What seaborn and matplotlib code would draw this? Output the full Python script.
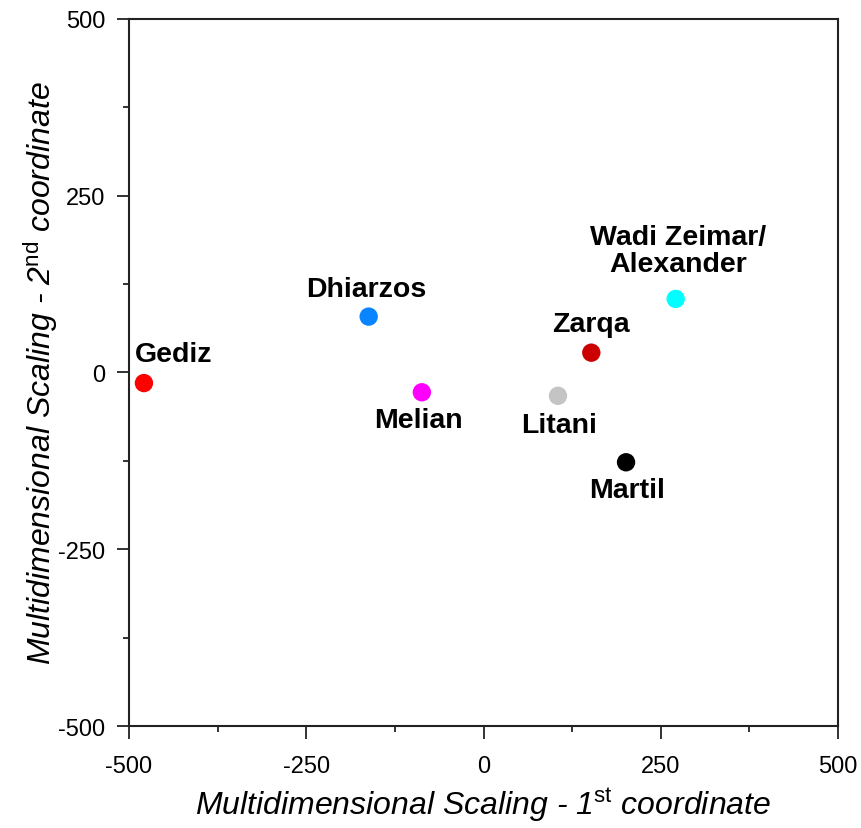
import matplotlib
matplotlib.use("Agg")
import matplotlib.pyplot as plt
import seaborn as sns
import pandas as pd
from matplotlib.ticker import MultipleLocator

# MDS coordinates
rivers = ["Gediz", "Dhiarzos", "Melian", "Litani", "Zarqa",
          "Wadi Zeimar/\nAlexander", "Martil"]
coord1 = [-479, -162, -87, 105, 152, 271, 201]
coord2 = [-15, 79, -28, -33, 28, 104, -127]
colors = ["#FF0000", "#0A84FF", "#FF00FF", "#C4C4C4", "#CC0000",
          "#00FFFF", "#000000"]

df = pd.DataFrame({"river": rivers, "x": coord1, "y": coord2})

sns.set_style("ticks")
plt.rcParams['font.family'] = ['Liberation Sans', 'DejaVu Sans']
plt.rcParams['mathtext.fontset'] = 'custom'
plt.rcParams['mathtext.rm'] = 'Liberation Sans'
plt.rcParams['mathtext.it'] = 'Liberation Sans:italic'
plt.rcParams['axes.unicode_minus'] = False
plt.rcParams['text.color'] = 'black'
plt.rcParams['axes.labelcolor'] = 'black'
plt.rcParams['xtick.color'] = 'black'
plt.rcParams['ytick.color'] = 'black'

fig = plt.figure(figsize=(8.62, 8.29), dpi=100)
ax = fig.add_axes([0.1497, 0.123, 0.8225, 0.853])

sns.scatterplot(data=df, x="x", y="y", hue="river", palette=colors,
                s=175, linewidth=0, legend=False, ax=ax, zorder=3)

# label offsets in pixels (dx, dy)
offsets = [(30, 29), (-2, 28), (-3, -28), (1, -29), (0, 29), (2, 48), (1, -28)]
for name, xv, yv, (dx, dy) in zip(rivers, coord1, coord2, offsets):
    ax.annotate(name, (xv, yv), xytext=(dx, dy), textcoords="offset pixels",
                ha="center", va="center", fontsize=20.5, fontweight="bold",
                linespacing=1.05)

ax.set_xlim(-500, 500)
ax.set_ylim(-500, 500)
ax.xaxis.set_major_locator(MultipleLocator(250))
ax.yaxis.set_major_locator(MultipleLocator(250))
ax.xaxis.set_minor_locator(MultipleLocator(125))
ax.yaxis.set_minor_locator(MultipleLocator(125))
ax.tick_params(which="major", direction="out", length=9, width=1.3,
               labelsize=17, color="#222222", pad=8)
ax.tick_params(axis="x", which="major", pad=12)
ax.tick_params(which="minor", direction="out", length=4.5, width=1.3,
               color="#222222")
for sp in ax.spines.values():
    sp.set_visible(True)
    sp.set_linewidth(1.5)
    sp.set_color("#222222")

ax.set_xlabel(r"Multidimensional Scaling - 1$^{\mathrm{st}}$ coordinate",
              fontsize=23, fontstyle="italic", labelpad=6)
ax.set_ylabel(r"Multidimensional Scaling - 2$^{\mathrm{nd}}$ coordinate",
              fontsize=23, fontstyle="italic", labelpad=-1)

fig.savefig("out.png", dpi=100)
